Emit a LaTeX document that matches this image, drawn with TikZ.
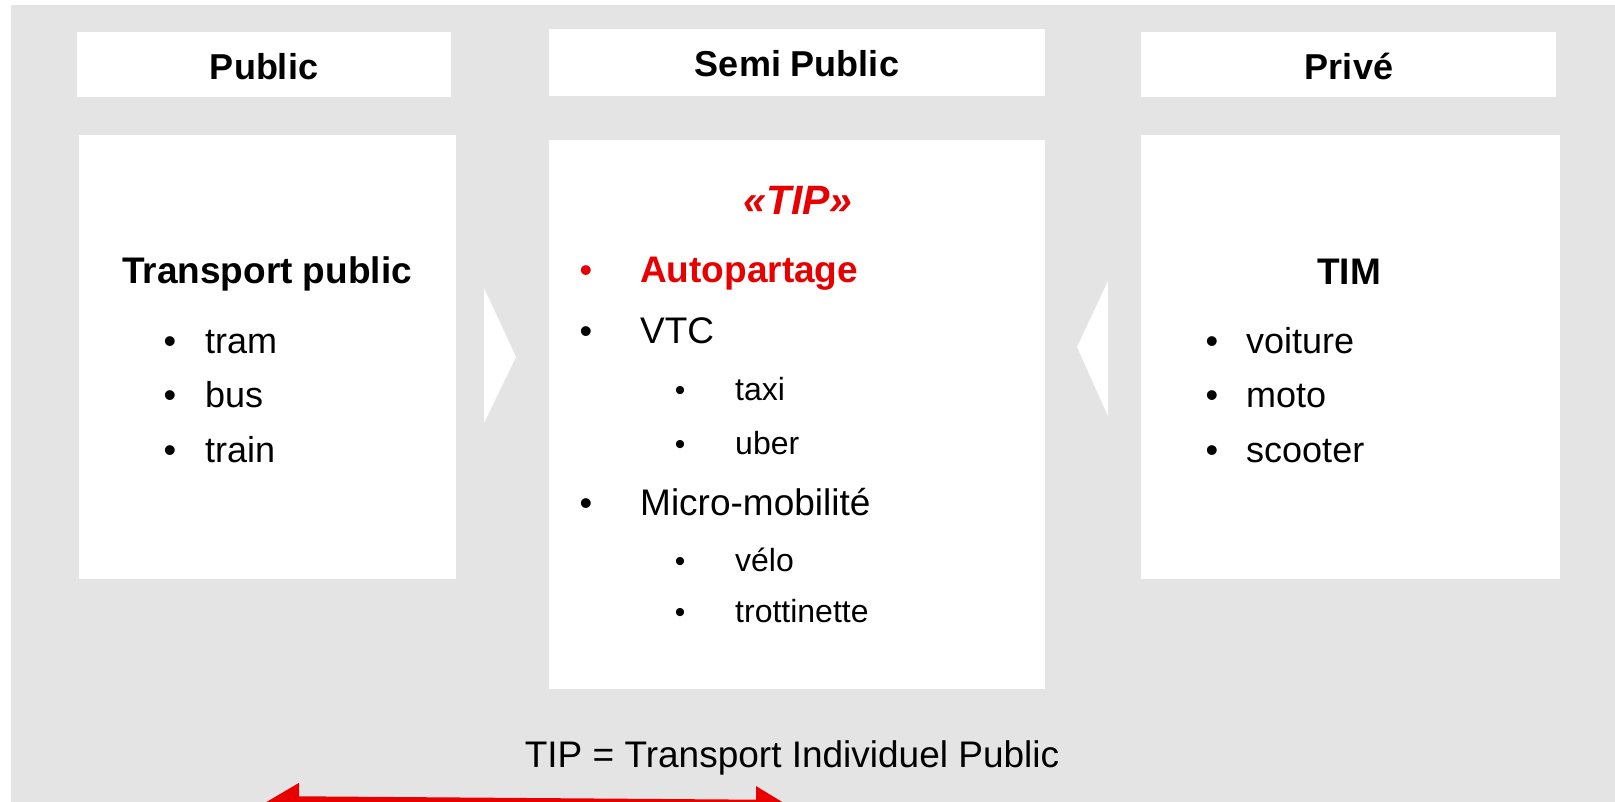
\documentclass[tikz,border=0pt]{standalone}
\usepackage{fontspec}
\setmainfont{Liberation Sans}
\usetikzlibrary{arrows.meta}
\definecolor{bggray}{RGB}{228,228,228}
\definecolor{tipred}{RGB}{232,0,0}
\tikzset{
  box/.style={fill=white, draw=none, anchor=north west, inner sep=0pt},
  head/.style={anchor=base, inner sep=0pt, font=\fontsize{36}{43}\selectfont\bfseries},
  title/.style={anchor=base, inner sep=0pt, font=\fontsize{37}{44}\selectfont\bfseries},
  item/.style={anchor=base west, inner sep=0pt, font=\fontsize{36}{43}\selectfont},
  bul/.style={anchor=base, inner sep=0pt, font=\fontsize{36}{43}\selectfont},
  subitem/.style={anchor=base west, inner sep=0pt, font=\fontsize{32}{38}\selectfont},
  subbul/.style={anchor=base, inner sep=0pt, font=\fontsize{30}{36}\selectfont},
  shifttri/.style={fill=white, draw=none},
}
\begin{document}
\begin{tikzpicture}[x=1pt,y=-1pt]
\useasboundingbox (0,0) rectangle (1615,802);
\fill[bggray] (11,5) rectangle (1615,802);
% headers
\node[box, minimum width=374pt, minimum height=65pt] (hpub) at (77,32) {};
\node[box, minimum width=496pt, minimum height=67pt] (hsemi) at (549,29) {};
\node[box, minimum width=415pt, minimum height=65pt] (hpriv) at (1141,32) {};
\node[head] (thpub) at (264,80) {Public};
\node[head] (thsemi) at (797,77) {Semi Public};
\node[head] (thpriv) at (1349,80) {Privé};
% bodies
\node[box, minimum width=377pt, minimum height=444pt] (bpub) at (79,135) {};
\node[box, minimum width=496pt, minimum height=549pt] (bsemi) at (549,140) {};
\node[box, minimum width=419pt, minimum height=444pt] (bpriv) at (1141,135) {};
% shift triangles
\fill[shifttri] (484,288) -- (516,357) -- (484,423) -- cycle;
\fill[shifttri] (1108,281) -- (1077,347) -- (1108,416) -- cycle;
% public content
\node[title] (tpub) at (267,284) {Transport public};
\node[bul] (pb1) at (170,353) {•};
\node[item] (p1) at (205,353) {tram};
\node[bul] (pb2) at (170,407) {•};
\node[item] (p2) at (205,407) {bus};
\node[bul] (pb3) at (170,462) {•};
\node[item] (p3) at (205,462) {train};
% semi content
\node[anchor=base, inner sep=0pt, font=\fontsize{41}{49}\selectfont\bfseries\itshape, text=tipred] (ttip) at (798,215) {«TIP»};
\node[bul, text=tipred] (sb1) at (586,283) {•};
\node[item, font=\fontsize{37}{44}\selectfont\bfseries, text=tipred] (s1) at (640,283) {Autopartage};
\node[bul] (sb2) at (586,344) {•};
\node[item, font=\fontsize{37}{44}\selectfont] (s2) at (640,344) {VTC};
\node[subbul] (ssb1) at (680,400) {•};
\node[subitem] (ss1) at (735,400) {taxi};
\node[subbul] (ssb2) at (680,454) {•};
\node[subitem] (ss2) at (735,454) {uber};
\node[bul] (sb3) at (586,515) {•};
\node[item, font=\fontsize{37}{44}\selectfont] (s3) at (640,515) {Micro-mobilité};
\node[subbul] (ssb3) at (680,571) {•};
\node[subitem] (ss3) at (735,571) {vélo};
\node[subbul] (ssb4) at (680,622) {•};
\node[subitem] (ss4) at (735,622) {trottinette};
% prive content
\node[title] (tpriv) at (1349,285) {TIM};
\node[bul] (vb1) at (1212,353) {•};
\node[item] (v1) at (1246,353) {voiture};
\node[bul] (vb2) at (1212,407) {•};
\node[item] (v2) at (1246,407) {moto};
\node[bul] (vb3) at (1212,462) {•};
\node[item] (v3) at (1246,462) {scooter};
% footer
\node[anchor=base, inner sep=0pt, font=\fontsize{37}{44}\selectfont] (foot) at (792,767) {TIP = Transport Individuel Public};
\coordinate (aL) at (259,806);
\coordinate (aR) at (796,810);
\draw[tipred, line width=20pt, {Triangle[length=40pt,width=44pt]}-{Triangle[length=40pt,width=44pt]}] (aL) -- (aR);
\end{tikzpicture}
\end{document}
